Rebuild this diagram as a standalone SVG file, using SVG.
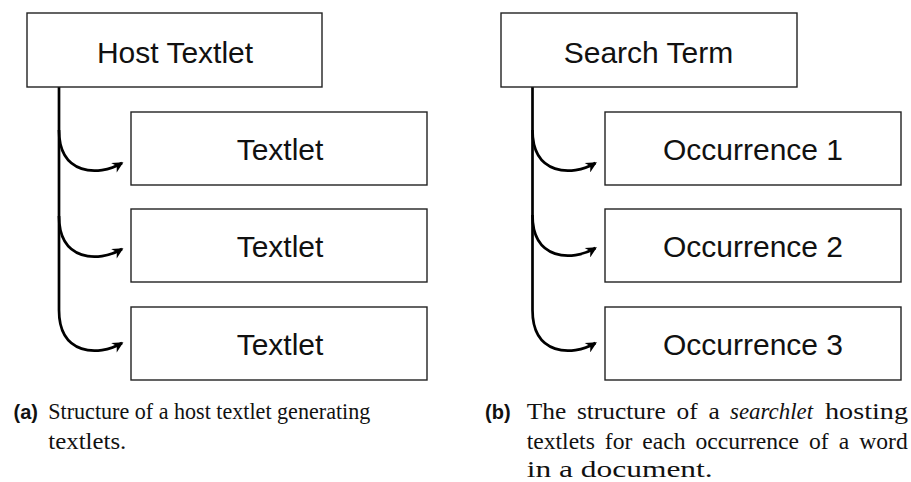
<svg xmlns="http://www.w3.org/2000/svg" width="911" height="482" viewBox="0 0 911 482">
<style>
.box{fill:#fff;stroke:#222;stroke-width:1.4}
.lbl{font-family:"Liberation Sans",Arial,sans-serif;font-size:30px;fill:#111;text-anchor:middle}
.con{fill:none;stroke:#000;stroke-width:2.7}
.cap{font-family:"Liberation Serif","Times New Roman",serif;font-size:23px;fill:#111}
.just{word-spacing:4px}
.tag{font-family:"Liberation Sans",Arial,sans-serif;font-size:20px;font-weight:bold;fill:#111}
</style>
<defs>
<marker id="ah" viewBox="0 0 10 10" refX="8.5" refY="5" markerWidth="12" markerHeight="11" markerUnits="userSpaceOnUse" orient="auto">
<path d="M0,0 L10,5 L0,10 L3,5 z" fill="#000"/>
</marker>
</defs>
<g id="connectors">
<path class="con" d="M59,87 V310"/>
<path class="con" marker-end="url(#ah)" d="M59,130 C59,175 98,177 122,163"/>
<path class="con" marker-end="url(#ah)" d="M59,216 C59,261 98,263 122,249"/>
<path class="con" marker-end="url(#ah)" d="M59,310 C59,355 98,357 122,343"/>
<path class="con" d="M532.5,87 V310"/>
<path class="con" marker-end="url(#ah)" d="M532.5,130 C532.5,175 571.5,177 595.5,163"/>
<path class="con" marker-end="url(#ah)" d="M532.5,215 C532.5,260 571.5,262 595.5,248"/>
<path class="con" marker-end="url(#ah)" d="M532.5,310 C532.5,355 571.5,357 595.5,343"/>
</g>
<g id="host-textlet"><rect class="box" x="27" y="13" width="295" height="74"/><text class="lbl" x="175" y="63">Host Textlet</text></g>
<g id="textlet-1"><rect class="box" x="131" y="112" width="296" height="73"/><text class="lbl" x="280" y="160">Textlet</text></g>
<g id="textlet-2"><rect class="box" x="131" y="209" width="296" height="73"/><text class="lbl" x="280" y="257">Textlet</text></g>
<g id="textlet-3"><rect class="box" x="131" y="307" width="296" height="73"/><text class="lbl" x="280" y="355">Textlet</text></g>
<g id="search-term"><rect class="box" x="501" y="13" width="296" height="74"/><text class="lbl" x="648.5" y="63">Search Term</text></g>
<g id="occurrence-1"><rect class="box" x="605" y="112" width="296" height="73"/><text class="lbl" x="753" y="160">Occurrence 1</text></g>
<g id="occurrence-2"><rect class="box" x="605" y="209" width="296" height="73"/><text class="lbl" x="753" y="257">Occurrence 2</text></g>
<g id="occurrence-3"><rect class="box" x="605" y="307" width="296" height="73"/><text class="lbl" x="753" y="355">Occurrence 3</text></g>
<g id="caption-a">
<text class="tag" x="13.5" y="419">(a)</text>
<text class="cap" x="48.3" y="419" textLength="322" lengthAdjust="spacingAndGlyphs">Structure of a host textlet generating</text>
<text class="cap" x="48.3" y="449" textLength="78" lengthAdjust="spacingAndGlyphs">textlets.</text>
</g>
<g id="caption-b">
<text class="tag" x="485" y="419">(b)</text>
<text class="cap just" x="526.7" y="419" textLength="193" lengthAdjust="spacingAndGlyphs">The structure of a</text>
<text class="cap" x="730" y="419" textLength="83" lengthAdjust="spacingAndGlyphs" font-style="italic">searchlet</text>
<text class="cap" x="825" y="419" textLength="83" lengthAdjust="spacingAndGlyphs">hosting</text>
<text class="cap just" x="526.7" y="449" textLength="381" lengthAdjust="spacingAndGlyphs">textlets for each occurrence of a word</text>
<text class="cap" x="526.7" y="477" textLength="186" lengthAdjust="spacingAndGlyphs">in a document.</text>
</g>
</svg>
